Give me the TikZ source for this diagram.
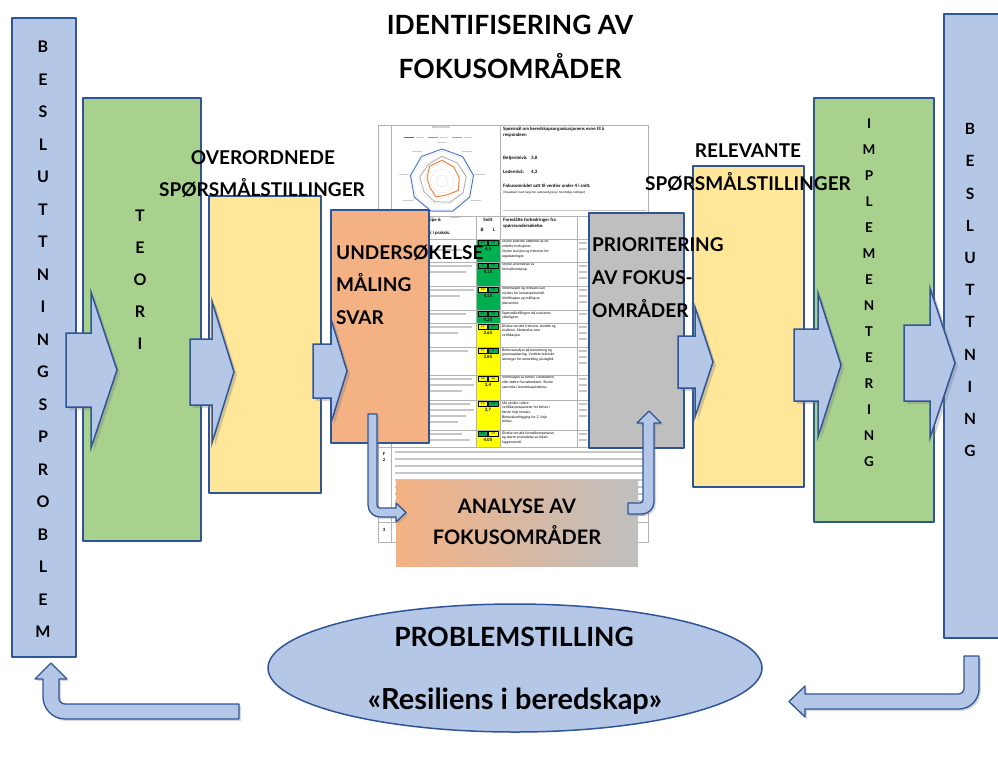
\documentclass[tikz,border=0pt]{standalone}
\usepackage{fontspec}
\setmainfont{Lato}
\usetikzlibrary{positioning,shapes.geometric,shadows}

\definecolor{barblue}{RGB}{180,199,231}
\definecolor{edgeblue}{RGB}{47,85,151}
\definecolor{theorygreen}{RGB}{169,209,142}
\definecolor{questyellow}{RGB}{255,230,153}
\definecolor{surveyorange}{RGB}{244,177,131}
\definecolor{priogray}{RGB}{191,191,191}
\definecolor{cg}{RGB}{0,176,80}
\definecolor{cy}{RGB}{255,255,0}
\definecolor{radblue}{RGB}{68,114,196}
\definecolor{radorange}{RGB}{237,125,49}
\definecolor{radgray}{RGB}{165,165,165}

\tikzset{
	panel/.style={draw=edgeblue, line width=1.5pt, anchor=north west, inner sep=0pt},
	bigarrow/.style={fill=barblue, draw=edgeblue, line width=1.5pt, line join=miter, drop shadow={opacity=.35, shadow xshift=3pt, shadow yshift=-3pt}},
	bentarrow/.style={fill=barblue, draw=edgeblue, line width=1.3pt, drop shadow={opacity=.3, shadow xshift=2pt, shadow yshift=-2pt}},
	letter/.style={font=\bfseries\fontsize{16}{16}\selectfont, inner sep=0pt},
	heading/.style={font=\bfseries\fontsize{26.5}{26.5}\selectfont, inner sep=0pt, anchor=base},
	label/.style={font=\bfseries\fontsize{19}{19}\selectfont, inner sep=0pt, anchor=base},
	boxtext/.style={font=\bfseries\fontsize{19}{19}\selectfont, inner sep=0pt, anchor=base west},
	sheetline/.style={gray!60, line width=.4pt},
	scribble/.style={gray!45, line width=1.1pt},
	tinytext/.style={font=\fontsize{3.5}{4.7}\selectfont, inner sep=0pt, anchor=north west, align=left},
	sheetbold/.style={font=\bfseries\fontsize{4.5}{6.3}\selectfont, inner sep=0pt, anchor=north west, align=left},
}

% #1 shaft start, #2 head back, #3 tip, #4 centre y, #5 half shaft, #6 half head
\newcommand{\blockarrow}[6]{%
	\draw[bigarrow] (#1,#4-#5) -- (#2,#4-#5) -- (#2,#4-#6) -- (#3,#4) -- (#2,#4+#6) -- (#2,#4+#5) -- (#1,#4+#5) -- cycle;}

\begin{document}
\begin{tikzpicture}[x=1pt, y=-1pt, line join=round]
	\useasboundingbox (0,0) rectangle (998,758);
	
	% --- title ---
	\node[heading] (title1) at (510,34) {IDENTIFISERING AV};
	\node[heading] (title2) at (510,78) {FOKUSOMRÅDER};
	
	% --- left column ---
	\node[panel, fill=barblue, minimum width=64, minimum height=639] (problem) at (11,17) {};
	\node[panel, fill=theorygreen, minimum width=118, minimum height=443] (theory) at (82,97) {};
	\node[panel, fill=questyellow, minimum width=112, minimum height=297] (overq) at (208,195) {};
	\blockarrow{66}{91}{117}{370}{37}{78}
	\blockarrow{190}{212}{234}{372}{33}{71}
	
	% --- screenshot of the survey sheet ---
	\begin{scope}
		\fill[white] (378,125) rectangle (648,542);
		% radar chart
		\node[font=\fontsize{3.5}{3.5}\selectfont, text=gray, inner sep=0pt] (radtitle) at (441,128) {Respondere};
		\draw[radblue, line width=.7pt] (404,137) -- (414,137);
		\draw[radorange, line width=.7pt] (428,137) -- (438,137);
		\draw[radgray, line width=.7pt] (452,137) -- (462,137);
		\foreach \x in {416,440,464} \draw[gray!40, line width=.8pt] (\x,137) -- ++(8,0);
		\begin{scope}[shift={(442,181)}]
			\foreach \r in {6,12,18,24,30}
				\draw[gray!25, line width=.3pt] (-90:\r) \foreach \k in {1,...,8} {-- ({-90+40*\k}:\r)} -- cycle;
			\foreach \k in {0,...,8}
				\draw[gray!40, line width=.8pt] ({-90+40*\k}:39) ++(-5,0) -- ++(10,0);
			\draw[radblue, line width=.9pt] (-90:32) \foreach \k in {1,...,8} {-- ({-90+40*\k}:32)} -- cycle;
			\draw[radgray, line width=.7pt] (-90:{4.5*5.5}) \foreach \a/\v in {-50/4.3,-10/4.5,30/4.4,70/4.1,110/4,150/3.8,190/4.1,230/3.9} {-- (\a:{\v*5.5})} -- cycle;
			\draw[radorange, line width=.9pt] (-90:{4.5*4.6}) \foreach \a/\v in {-50/4,-10/3.8,30/4.1,70/3.2,110/3.7,150/3.0,190/3.3,230/4.2} {-- (\a:{\v*4.6})} -- cycle;
		\end{scope}
		% summary text
		\node[sheetbold] (ask) at (503,127) {Spørsmål om beredskapsorganisasjonens evne til å\\respondere:};
		\node[sheetbold] (betj) at (503,156) {Betjentnivå:};
		\node[sheetbold] (betjv) at (531,156) {3,8};
		\node[sheetbold] (led) at (503,170) {Ledernivå:};
		\node[sheetbold] (ledv) at (531,170) {4,2};
		\node[sheetbold] (focus) at (503,184) {Fokusområdet satt til verdier under 4 i snitt.};
		\node[tinytext, font=\fontsize{3}{3}\selectfont] (visual) at (503,191) {(Visualisert med farge for sammenligning i fremtidige målinger)};
		\draw[scribble, line width=.8pt] (503,210) -- (646,210);
		% header row
		\node[sheetbold] (hgrp) at (429,218) {ppe 6:};
		\node[sheetbold] (hprak) at (429,231) {E i praksis.};
		\node[sheetbold, anchor=north] (hsnitt) at (488,218) {Snitt};
		\node[sheetbold, anchor=north] (hb) at (482,228) {B};
		\node[sheetbold, anchor=north] (hl) at (494,228) {L};
		\node[sheetbold] (hforb) at (503,218) {Foreslåtte forbedringer fra\\spørreundersøkelse.};
		% averages per focus area
		\foreach \t/\b/\vb/\cb/\vl/\cl/\vm/\cm in {
			239/262/{4,5}/cg/{4,5}/cg/{4,5}/cg,
			262/286/{4}/cg/{4,3}/cg/{4,15}/cg,
			286/310/{3,8}/cy/{4,5}/cg/{4,15}/cg,
			310/323/{4,1}/cg/{4,4}/cg/{4,25}/cg,
			323/347/{3,2}/cy/{4,1}/cg/{3,65}/cy,
			347/375/{3,7}/cy/{4}/cg/{3,85}/cy,
			375/400/{3,0}/cy/{3,8}/cy/{3,4}/cy,
			400/430/{3,3}/cy/{4,1}/cg/{3,7}/cy,
			430/447/{4,2}/cg/{3,9}/cy/{4,05}/cy}{
			\fill[\cm] (476,\t) rectangle (500,\b);
			\draw[black, line width=.3pt, fill=\cb] (478,\t+1) rectangle (487.5,\t+6.5);
			\draw[black, line width=.3pt, fill=\cl] (488.5,\t+1) rectangle (498,\t+6.5);
			\node[font=\fontsize{2.8}{2.8}\selectfont, inner sep=0pt] (sb\t) at (482.75,\t+3.75) {\vb};
			\node[font=\fontsize{2.8}{2.8}\selectfont, inner sep=0pt] (sl\t) at (493.25,\t+3.75) {\vl};
			\node[font=\bfseries\fontsize{4.4}{4.4}\selectfont, inner sep=0pt] (sm\t) at (488,\t+10.5) {\vm};
		}
		% suggested improvements
		\foreach \t/\txt in {
			239/{Styrke praktisk utførelse av de\\enkelte funksjoner.\\Styrke revisjon og frekvens for\\oppdateringer.},
			262/{Styrke anvendelse av\\formalkunnskap.},
			286/{Informasjon og relevans kan\\styrkes for innsatspersonell.\\Verifikasjon og måling av\\planverket.},
			310/{Spørsmålstillingen må evalueres\\ytterligere.},
			323/{Øvelse om økt frekvens, bredde og\\realisme. Storøvelse som\\verifikasjon.},
			347/{Behovsanalyse på bemanning og\\grunnopplæring. Vurdere tekniske\\løsninger for anmelding på dagtid.},
			375/{Verifikasjon av behov i landsdelen\\eller støtte fra naboetater. Styrke\\samvirke i beredskapsledelse.},
			400/{Må utvikle videre\\verifikasjonspaneler for behov i\\første linje innsats.\\Behovskartlegging for 2. linje\\behov.},
			430/{Øvelse om økt formalkompetanse\\og større anvendelse av lokalt\\fagpersonell.}}
			\node[tinytext] (tip\t) at (502,\t+1.2) {\txt};
		% grid
		\draw[sheetline] (378,125) rectangle (648,542);
		\draw[sheetline] (391,125) -- (391,542);
		\draw[sheetline] (500,125) -- (500,447);
		\draw[sheetline] (476,216) -- (476,447);
		\draw[sheetline] (577,216) -- (577,447);
		\foreach \y in {216,239,262,286,310,323,347,375,400,430,447,522}
			\draw[sheetline] (378,\y) -- (648,\y);
		% hidden text in the outer columns
		\foreach \y/\e in {250/462,266/472,272/466,290/474,296/460,314/466,327/472,333/458,351/468,379/472,385/474,391/462,404/470,410/474,416/466,422/458,434/462,440/470}
			\draw[scribble] (430,\y) -- (\e,\y);
		\foreach \y in {243,249,266,272,278,290,296,302,314,327,333,339,351,357,363,379,385,391,404,410,416,434,440}
			\draw[scribble] (579,\y) -- (587,\y);
		\foreach \y in {452,459,466,473,480,487,494,501,508,515}
			\draw[scribble] (395,\y) -- (645,\y);
		\node[sheetbold, font=\bfseries\fontsize{4.2}{6.5}\selectfont, align=center, anchor=north] (fnum) at (384,452) {F\\2};
		\node[sheetbold, font=\bfseries\fontsize{4.2}{4.2}\selectfont, anchor=north] (lastnum) at (384,528) {3};
	\end{scope}
	
	% --- centre boxes ---
	\node[panel, fill=surveyorange, minimum width=98, minimum height=233] (survey) at (330,209) {};
	\node[panel, fill=priogray, minimum width=95, minimum height=235] (prio) at (588,212) {};
	\node[panel, fill=questyellow, minimum width=111, minimum height=321] (relq) at (692,165) {};
	\node[panel, fill=theorygreen, minimum width=120, minimum height=424] (implement) at (813,97) {};
	\node[panel, fill=barblue, minimum width=62, minimum height=624] (decision) at (943,13) {};
	\blockarrow{313}{331}{347}{371}{27}{52}
	\blockarrow{678}{695}{713}{362}{26}{55}
	\blockarrow{794}{818}{841}{365}{36}{72}
	\blockarrow{904}{930}{955}{363}{38}{75}
	
	% --- vertical words ---
	\foreach \ch [count=\i] in {B,E,S,L,U,T,T,N,I,N,G,S,P,R,O,B,L,E,M}
		\node[letter] (bp\i) at (43,{47+32.5*(\i-1)}) {\ch};
	\foreach \ch [count=\i] in {T,E,O,R,I}
		\node[letter] (teo\i) at (140,{216+32*(\i-1)}) {\ch};
	\foreach \ch [count=\i] in {I,M,P,L,E,M,E,N,T,E,R,I,N,G}
		\node[letter, font=\bfseries\fontsize{13.5}{13.5}\selectfont] (imp\i) at (869,{124+26*(\i-1)}) {\ch};
	\foreach \ch [count=\i] in {B,E,S,L,U,T,T,N,I,N,G}
		\node[letter, font=\bfseries\fontsize{15.5}{15.5}\selectfont] (bes\i) at (970,{129+32.2*(\i-1)}) {\ch};
	
	% --- box texts ---
	\foreach \txt [count=\i] in {UNDERSØKELSE,MÅLING,SVAR}
		\node[boxtext] (und\i) at (336,{259+32.5*(\i-1)}) {\txt};
	\foreach \txt [count=\i] in {PRIORITERING,AV FOKUS-,OMRÅDER}
		\node[boxtext] (pri\i) at (592,{251+33*(\i-1)}) {\txt};
	\node[label] (over1) at (263,164) {OVERORDNEDE};
	\node[label] (over2) at (262,196) {SPØRSMÅLSTILLINGER};
	\node[label] (rel1) at (748,157) {RELEVANTE};
	\node[label] (rel2) at (748,190) {SPØRSMÅLSTILLINGER};
	
	% --- analysis ---
	\node[anchor=north west, minimum width=242, minimum height=86, inner sep=0pt, left color=surveyorange, middle color=white, right color=priogray] (analysis) at (396,480) {};
	\node[label, font=\bfseries\fontsize{20}{20}\selectfont] (ana1) at (517,513) {ANALYSE AV};
	\node[label, font=\bfseries\fontsize{20}{20}\selectfont] (ana2) at (517,544) {FOKUSOMRÅDER};
	\draw[bentarrow] (368,414) -- (377,414) -- (377,505) .. controls (377,506.7) and (378.3,508) .. (380,508) -- (396,508) -- (396,503) -- (406,512.5) -- (396,522) -- (396,517) -- (380,517) .. controls (373.4,517) and (368,511.6) .. (368,505) -- cycle;
	\draw[bentarrow] (628,503) -- (640,503) .. controls (641.7,503) and (643,501.7) .. (643,500) -- (643,423) -- (637,423) -- (649,411) -- (661,423) -- (654,423) -- (654,502) .. controls (654,508.6) and (648.6,514) .. (642,514) -- (628,514) -- cycle;
	
	% --- problem statement ---
	\node[ellipse, draw=edgeblue, line width=1.5pt, fill=barblue, minimum width=494, minimum height=128, inner sep=0pt] (statement) at (515,668) {};
	\node[heading] (stat1) at (514,646) {PROBLEMSTILLING};
	\node[heading, font=\bfseries\fontsize{29}{29}\selectfont] (stat2) at (515,709) {«Resiliens i beredskap»};
	\draw[bentarrow] (239,704) -- (65,704) .. controls (61.7,704) and (59,701.3) .. (59,698) -- (59,679) -- (67,679) -- (51,663) -- (35,679) -- (43,679) -- (43,697) .. controls (43,709.1) and (52.9,719) .. (65,719) -- (239,719) -- cycle;
	\draw[bentarrow] (964,656) -- (979,656) -- (979,689) .. controls (979,700) and (970,709) .. (959,709) -- (805,709) -- (805,717) -- (789,701.5) -- (805,686) -- (805,694) -- (959,694) .. controls (961.8,694) and (964,691.8) .. (964,689) -- cycle;
\end{tikzpicture}
\end{document}
